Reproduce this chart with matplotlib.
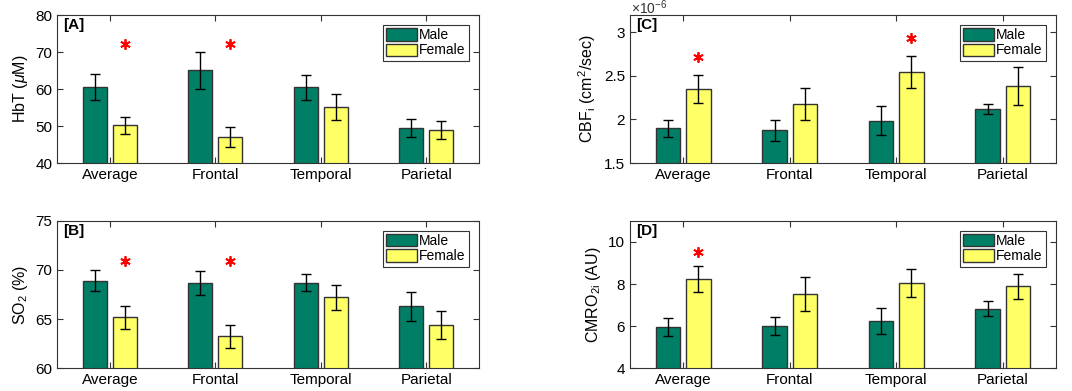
import numpy as np
from matplotlib import pyplot as plt
from matplotlib.ticker import FormatStrFormatter

plt.rcParams['font.family'] = ['Liberation Sans', 'DejaVu Sans']
plt.rcParams['mathtext.fontset'] = 'custom'
plt.rcParams['mathtext.rm'] = 'Liberation Sans'
plt.rcParams['mathtext.it'] = 'Liberation Sans:italic'
plt.rcParams['mathtext.bf'] = 'Liberation Sans:bold'

regions = ['Average', 'Frontal', 'Temporal', 'Parietal']

# [A] HbT
hbt_male = [60.6, 65.1, 60.5, 49.4]
hbt_male_err = [3.5, 5.0, 3.4, 2.5]
hbt_female = [50.2, 47.1, 55.2, 48.9]
hbt_female_err = [2.3, 2.7, 3.5, 2.4]
hbt_stars = [0, 1]
hbt_star_y = 72.3

# [B] SO2
so2_male = [68.9, 68.65, 68.72, 66.28]
so2_male_err = [1.05, 1.24, 0.87, 1.52]
so2_female = [65.19, 63.22, 67.2, 64.41]
so2_female_err = [1.17, 1.2, 1.24, 1.4]
so2_stars = [0, 1]
so2_star_y = 70.9

# [C] CBFi (x 1e-6)
cbf_male = [1.898, 1.875, 1.986, 2.124]
cbf_male_err = [0.097, 0.122, 0.165, 0.058]
cbf_female = [2.353, 2.18, 2.548, 2.384]
cbf_female_err = [0.159, 0.183, 0.186, 0.22]
cbf_stars = [0, 2]
cbf_star_y = [2.713, 2.935]

# [D] CMRO2i
cmro_male = [5.95, 6.01, 6.25, 6.82]
cmro_male_err = [0.41, 0.42, 0.61, 0.35]
cmro_female = [8.22, 7.52, 8.05, 7.89]
cmro_female_err = [0.62, 0.81, 0.67, 0.59]
cmro_stars = [0]
cmro_star_y = [9.53]

male_color = '#007f66'
female_color = '#ffff66'
edge_color = '#333333'
bar_w = 0.2286
offset = 0.1429


def draw_panel(ax, male, male_err, female, female_err, stars, star_y, ylim, yticks, ylabel, tag):
    x = np.arange(1, len(regions) + 1)
    ax.bar(x - offset, male, bar_w, color=male_color, edgecolor=edge_color, linewidth=1, label='Male', zorder=2)
    ax.bar(x + offset, female, bar_w, color=female_color, edgecolor=edge_color, linewidth=1, label='Female', zorder=2)
    ax.errorbar(x - offset, male, yerr=male_err, fmt='none', ecolor='black', elinewidth=1, capsize=3.5, capthick=1, zorder=3)
    ax.errorbar(x + offset, female, yerr=female_err, fmt='none', ecolor='black', elinewidth=1, capsize=3.5, capthick=1, zorder=3)
    sx = x[stars] + offset
    sy = np.broadcast_to(star_y, sx.shape)
    ax.plot(sx, sy, linestyle='none', marker=(6, 2, 0), markersize=7.5, markeredgecolor='red', markeredgewidth=1.3, zorder=4)
    ax.set_xlim(0.5, 4.5)
    ax.set_ylim(*ylim)
    ax.set_yticks(yticks)
    ax.yaxis.set_major_formatter(FormatStrFormatter('%g'))
    ax.set_xticks(x)
    ax.set_xticklabels(regions)
    ax.tick_params(direction='in', top=True, right=True, length=4, width=0.8, labelsize=11, color='#333333')
    for s in ax.spines.values():
        s.set_color('#333333')
        s.set_linewidth(0.8)
    ax.set_ylabel(ylabel, fontsize=11.5)
    ax.text(0.015, 0.93, tag, transform=ax.transAxes, fontsize=11, fontweight='bold', va='center', ha='left')
    leg = ax.legend(loc='upper right', bbox_to_anchor=(0.976, 0.935), fontsize=10, fancybox=False,
                    edgecolor='#333333', framealpha=1, handlelength=2.2, handleheight=1.0,
                    handletextpad=0.15, borderpad=0.25, labelspacing=0.1, borderaxespad=0)
    leg.get_frame().set_linewidth(0.8)


fig = plt.figure(figsize=(10.72, 3.91), dpi=100)
ax_a = fig.add_axes([0.0532, 0.5831, 0.3937, 0.3785])
ax_b = fig.add_axes([0.0532, 0.0588, 0.3937, 0.376])
ax_c = fig.add_axes([0.5877, 0.5831, 0.3974, 0.3785])
ax_d = fig.add_axes([0.5877, 0.0588, 0.3974, 0.376])

draw_panel(ax_a, hbt_male, hbt_male_err, hbt_female, hbt_female_err, hbt_stars, hbt_star_y,
           (40, 80), [40, 50, 60, 70, 80], r'HbT ($\mu$M)', '[A]')
draw_panel(ax_b, so2_male, so2_male_err, so2_female, so2_female_err, so2_stars, so2_star_y,
           (60, 75), [60, 65, 70, 75], r'SO$_2$ (%)', '[B]')
draw_panel(ax_c, cbf_male, cbf_male_err, cbf_female, cbf_female_err, cbf_stars, cbf_star_y,
           (1.5, 3.2), [1.5, 2, 2.5, 3], r'CBF$_\mathrm{i}$ (cm$^2$/sec)', '[C]')
draw_panel(ax_d, cmro_male, cmro_male_err, cmro_female, cmro_female_err, cmro_stars, cmro_star_y,
           (4, 11), [4, 6, 8, 10], r'CMRO$_\mathrm{2i}$ (AU)', '[D]')

# exponent label of panel C
fig.text(0.5885, 1 - 14 / 391, r'$\times10^{-6}$', fontsize=10, ha='left', va='baseline', color='#333333')

fig.savefig('out.png', dpi=100)
